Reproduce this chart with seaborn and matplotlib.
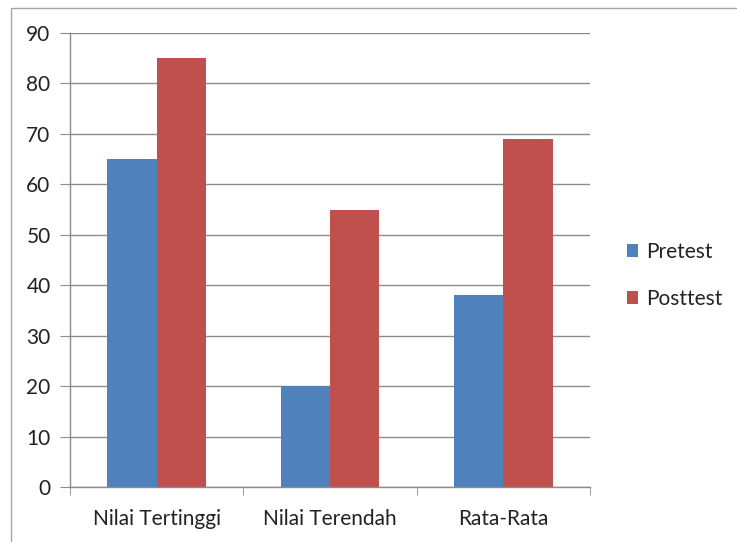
import numpy as np
import pandas as pd
import seaborn as sns
import matplotlib.pyplot as plt
from matplotlib.patches import Rectangle

categories = ['Nilai Tertinggi', 'Nilai Terendah', 'Rata-Rata']
pretest = [65, 20, 38]
posttest = [85, 55, 69]

df = pd.DataFrame({
    'kategori': categories * 2,
    'nilai': pretest + posttest,
    'tes': ['Pretest'] * 3 + ['Posttest'] * 3,
})

sns.set_style('white')
plt.rcParams['font.family'] = ['Lato', 'DejaVu Sans']

fig = plt.figure(figsize=(7.37, 5.42), dpi=100)
ax = fig.add_axes([70 / 737, 1 - 487 / 542, 520 / 737, 454 / 542])

sns.barplot(data=df, x='kategori', y='nilai', hue='tes',
            palette={'Pretest': '#4F81BD', 'Posttest': '#C0504D'},
            width=0.57, saturation=1, linewidth=0, ax=ax, legend=True)

ax.set_ylim(0, 90)
ax.set_xlim(-0.5, 2.5)
ax.set_yticks(range(0, 91, 10))
ax.yaxis.grid(True, color='#8c8c8c', linewidth=1)
ax.set_axisbelow(True)
ax.set_xlabel('')
ax.set_ylabel('')

for s in ['top', 'right']:
    ax.spines[s].set_visible(False)
for s in ['left', 'bottom']:
    ax.spines[s].set_color('#8c8c8c')
    ax.spines[s].set_linewidth(1)

ax.tick_params(axis='y', length=7, color='#8c8c8c', labelsize=15, pad=7,
               left=True, labelcolor='#222222')
ax.tick_params(axis='x', which='major', length=0, labelsize=15, pad=16,
               labelcolor='#222222')
ax.set_xticks([-0.5, 0.5, 1.5, 2.5], minor=True)
ax.tick_params(axis='x', which='minor', length=6, color='#8c8c8c', bottom=True)

leg = ax.legend(loc='center left', bbox_to_anchor=(538 / 520, 0.466),
                frameon=False, fontsize=15, handlelength=0.55, handleheight=0.55,
                labelspacing=1.3, handletextpad=0.4, title=None)
for t in leg.get_texts():
    t.set_color('#222222')

fig.patches.append(Rectangle((11 / 737, -0.1), 740 / 737, 1 - 8 / 542 + 0.1,
                             transform=fig.transFigure, fill=False,
                             edgecolor='#a6a6a6', linewidth=1))

fig.savefig('out.png', dpi=100)
